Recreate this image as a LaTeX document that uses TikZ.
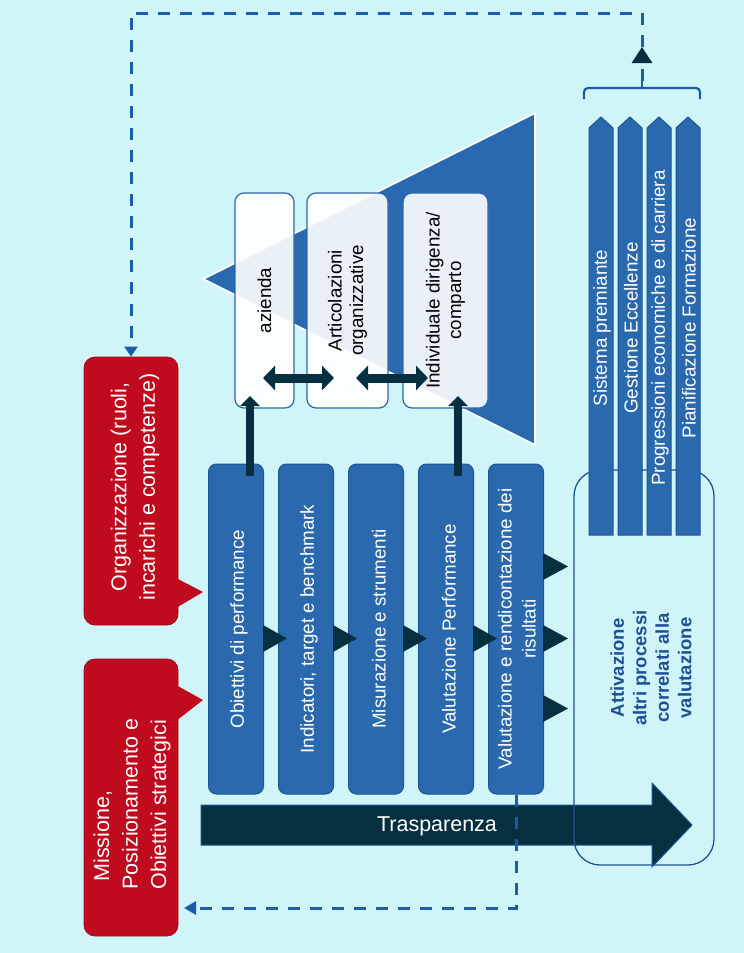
\documentclass[tikz,border=0pt]{standalone}
\usepackage{fontspec}
\setmainfont{Liberation Sans}
\usetikzlibrary{arrows.meta,calc}
\definecolor{bg}{HTML}{D0F5F8}
\definecolor{mblue}{HTML}{2A69AE}
\definecolor{dblue}{HTML}{1D5391}
\definecolor{navy}{HTML}{06303F}
\definecolor{cred}{HTML}{C00B1F}
\definecolor{dashc}{HTML}{1A5CA8}
\definecolor{txtblue}{HTML}{1F4F95}
\begin{document}
\begin{tikzpicture}[x=1pt,y=-1pt,
  colbox/.style={draw=dblue, line width=1pt, fill=mblue, rounded corners=8pt,
    minimum width=55pt, minimum height=330pt, inner sep=0pt},
  coltext/.style={rotate=90, text=white, align=center,
    font=\fontsize{18.8}{24}\selectfont},
  wbox/.style={draw=mblue, line width=1.2pt, fill=white, fill opacity=0.9,
    rounded corners=9pt, minimum height=215pt, inner sep=0pt},
  wtext/.style={rotate=90, text=black, align=center,
    font=\fontsize{18.8}{21.5}\selectfont},
  redbox/.style={draw=cred!85!black, line width=0.8pt, fill=cred,
    rounded corners=11pt, minimum width=94pt, inner sep=0pt},
  redtext/.style={rotate=90, text=white,
    font=\fontsize{21.5}{28.5}\selectfont},
  navyarrow/.style={navy, line width=9pt},
  dashl/.style={dashc, line width=3pt, dash pattern=on 12pt off 10pt},
  rtext/.style={rotate=90, text=white, font=\fontsize{18.8}{22}\selectfont},
  stip/.style={fill=navy}
]
\fill[bg] (0,0) rectangle (744,953);
\useasboundingbox (0,0) rectangle (744,953);

% big triangle
\fill[mblue, draw=white, line width=2pt, line join=miter] (203,279) -- (535,113) -- (535,445) -- cycle;

% white boxes
\node[wbox, minimum width=59pt] (wb1) at (264.5,300.5) {};
\node[wbox, minimum width=81pt] (wb2) at (347.5,300.5) {};
\node[wbox, minimum width=85pt] (wb3) at (445.5,300.5) {};
\node[wtext] (wt1) at (wb1) {azienda};
\node[wtext] (wt2) at (wb2) {Articolazioni\\organizzative};
\node[wtext] (wt3) at (wb3) {Individuale dirigenza/\\comparto};

% double arrows
\coordinate (d1a) at (263,378); \coordinate (d1b) at (334,378);
\coordinate (d2a) at (356,378); \coordinate (d2b) at (428,378);
\draw[navyarrow, {Triangle[width=24pt,length=12pt]}-{Triangle[width=24pt,length=12pt]}] (d1a) -- (d1b);
\draw[navyarrow, {Triangle[width=24pt,length=12pt]}-{Triangle[width=24pt,length=12pt]}] (d2a) -- (d2b);

% process columns
\node[colbox] (c1) at (236,629) {};
\node[colbox] (c2) at (306,629) {};
\node[colbox] (c3) at (376,629) {};
\node[colbox] (c4) at (446,629) {};
\node[colbox] (c5) at (516,629) {};
\node[coltext] (ct1) at ($(c1)+(3,0)$) {Obiettivi di performance};
\node[coltext] (ct2) at ($(c2)+(3,0)$) {Indicatori, target e benchmark};
\node[coltext] (ct3) at ($(c3)+(3,0)$) {Misurazione e strumenti};
\node[coltext] (ct4) at ($(c4)+(3,0)$) {Valutazione Performance};
\node[coltext] (ct5) at ($(c5)+(1,0)$) {Valutazione e rendicontazione dei\\risultati};

% small triangles
\fill[stip] (263,625) -- (287,638.5) -- (263,652) -- cycle;
\fill[stip] (333,625) -- (357,638.5) -- (333,652) -- cycle;
\fill[stip] (403,625) -- (427,638.5) -- (403,652) -- cycle;
\fill[stip] (473,625) -- (497,638.5) -- (473,652) -- cycle;
\fill[stip] (543,553) -- (568,566.5) -- (543,580) -- cycle;
\fill[stip] (543,625) -- (568,638.5) -- (543,652) -- cycle;
\fill[stip] (543,695) -- (568,708.5) -- (543,722) -- cycle;

% vertical connectors up to boxes
\coordinate (v1a) at (250,476); \coordinate (v1b) at (250,396);
\coordinate (v2a) at (458,476); \coordinate (v2b) at (458,396);
\draw[navy, line width=8pt, -{Triangle[width=19pt,length=10pt]}] (v1a) -- (v1b);
\draw[navy, line width=8pt, -{Triangle[width=19pt,length=10pt]}] (v2a) -- (v2b);

% red callouts
\node[redbox, minimum height=268pt] (org) at (131,491) {};
\fill[cred] (176,578) -- (203,592) -- (176,608) -- cycle;
\node[redtext, align=center] (orgt) at (135,487) {Organizzazione (ruoli,\\incarichi e competenze)};
\node[redbox, minimum height=277pt] (mis) at (131,797.5) {};
\fill[cred] (176,685) -- (203,700) -- (176,721) -- cycle;
\node[redtext, align=left] (mist) at (132,804) {\hspace*{8pt}Missione,\\Posizionamento e\\Obiettivi strategici};

% Trasparenza arrow
\fill[navy, draw=dblue, line width=1pt] (201,805) -- (652,805) -- (652,783) -- (692,825) -- (652,867) -- (652,845) -- (201,845) -- cycle;
\node[text=white, font=\fontsize{21.5}{24}\selectfont] (tras) at (437,826) {Trasparenza};

% activation box
\node[draw=dblue, line width=1.3pt, rounded corners=26pt, minimum width=140pt, minimum height=395pt, inner sep=0pt] (act) at (644,667.5) {};
\node[rotate=90, text=txtblue, align=center, font=\bfseries\fontsize{18.5}{22.5}\selectfont] (actt) at (651,668) {Attivazione\\altri processi\\correlati alla\\valutazione};

% right arrow columns
\filldraw[fill=mblue, draw=dblue, line width=1pt] (589,128) -- (601,117) -- (613,128) -- (613,535) -- (589,535) -- cycle;
\filldraw[fill=mblue, draw=dblue, line width=1pt] (618,128) -- (630,117) -- (642,128) -- (642,535) -- (618,535) -- cycle;
\filldraw[fill=mblue, draw=dblue, line width=1pt] (647,128) -- (659,117) -- (671,128) -- (671,535) -- (647,535) -- cycle;
\filldraw[fill=mblue, draw=dblue, line width=1pt] (676,128) -- (688,117) -- (700,128) -- (700,535) -- (676,535) -- cycle;
\node[rtext] (r1) at (602,328) {Sistema premiante};
\node[rtext] (r2) at (631,328) {Gestione Eccellenze};
\node[rtext] (r3) at (660,328) {Progressioni economiche e di carriera};
\node[rtext] (r4) at (689,328) {Pianificazione Formazione};

% brace
\draw[dashc, line width=2.2pt, rounded corners=4pt] (584,99) -- (584,88) -- (700,88) -- (700,99);
\coordinate (br) at (642,88);
\coordinate (brtip) at (642,81);
\draw[dashc, line width=2.2pt] (br) -- (brtip);

% feedback dashed connectors
\coordinate (up1) at (642,47);
\draw[dashl, -{Triangle[width=20pt,length=16pt,color=navy]}] (brtip) -- (up1);
\draw[dashl, -{Triangle[width=13pt,length=10pt]}] (up1) -- (642,13) -- (131,13) -- (org.north);
\coordinate (misin) at (184,908);
\draw[dashl, -{Triangle[width=13pt,length=12pt]}] (c5.south) |- (misin);
\end{tikzpicture}
\end{document}
